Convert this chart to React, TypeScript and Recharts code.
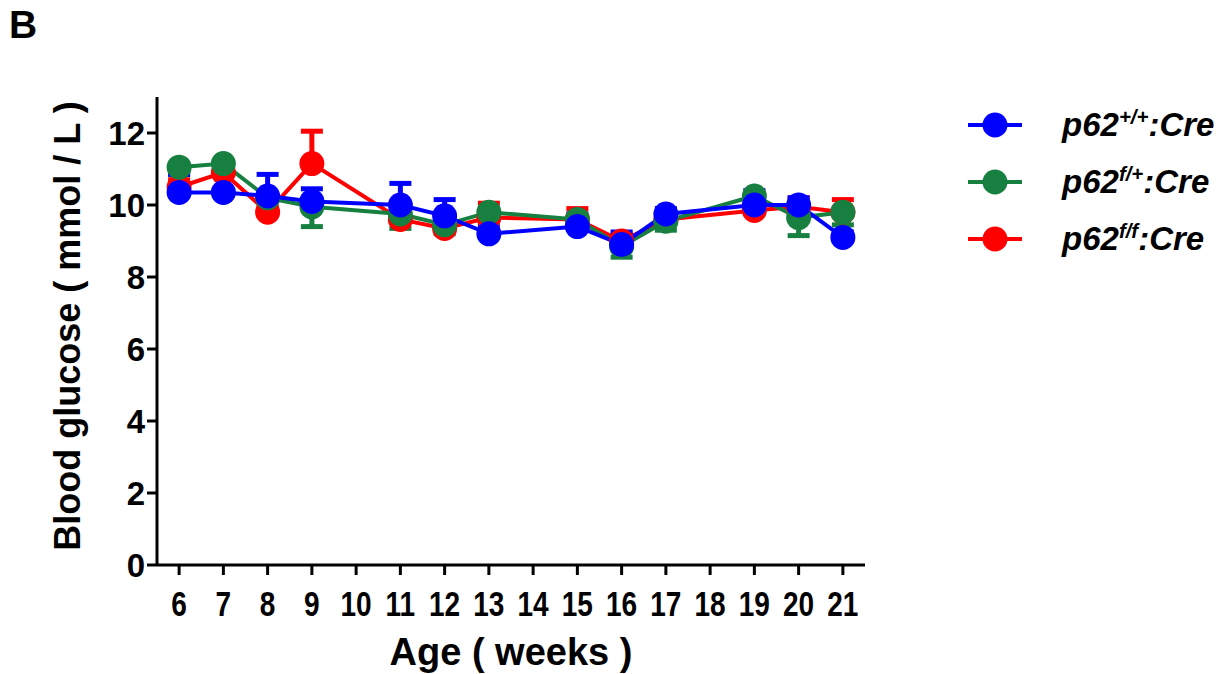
import { LineChart, Line, XAxis, YAxis, ErrorBar, Label } from 'recharts'

const FONT = "'Liberation Sans', Arial, Helvetica, sans-serif"

// age in weeks (10, 14 and 18 have ticks but no measurements)
const weeks = [6, 7, 8, 9, 11, 12, 13, 15, 16, 17, 19, 20, 21]
const xTicks = [6, 7, 8, 9, 10, 11, 12, 13, 14, 15, 16, 17, 18, 19, 20, 21]
const yTicks = [0, 2, 4, 6, 8, 10, 12]

// p62+/+:Cre  (error drawn upward)
const wtMean = [10.35, 10.35, 10.25, 10.1, 10.0, 9.7, 9.2, 9.4, 8.9, 9.75, 10.0, 10.0, 9.1]
const wtSem = [0.5, 0.5, 0.6, 0.35, 0.6, 0.45, 0.2, 0.35, 0.35, 0.15, 0.4, 0.2, 0.15]
// p62f/+:Cre  (error drawn downward)
const hetMean = [11.05, 11.15, 10.2, 9.95, 9.75, 9.45, 9.8, 9.6, 8.85, 9.55, 10.25, 9.65, 9.8]
const hetSem = [0.2, 0.2, 0.3, 0.55, 0.4, 0.25, 0.25, 0.25, 0.3, 0.25, 0.25, 0.5, 0.35]
// p62f/f:Cre  (error drawn upward)
const koMean = [10.5, 10.9, 9.8, 11.15, 9.6, 9.35, 9.65, 9.6, 9.0, 9.6, 9.85, 9.95, 9.8]
const koSem = [0.2, 0.25, 0.2, 0.9, 0.2, 0.25, 0.4, 0.3, 0.2, 0.15, 0.2, 0.25, 0.35]

const BLUE = '#0000ff'
const GREEN = '#178040'
const RED = '#ff0000'

const data = weeks.map((w, i) => ({
  week: w,
  wt: wtMean[i],
  wtErr: [0, wtSem[i]],
  het: hetMean[i],
  hetErr: [hetSem[i], 0],
  ko: koMean[i],
  koErr: [0, koSem[i]],
}))

const legendItems = [
  { color: BLUE, sup: '+/+' },
  { color: GREEN, sup: 'f/+' },
  { color: RED, sup: 'f/f' },
]

const XTick = ({ x, y, payload }: any) => (
  <text
    transform={`translate(${x},${y + 39}) scale(0.8,1)`}
    textAnchor="middle"
    fontSize={35}
    fontWeight="bold"
    fontFamily={FONT}
    fill="#000"
  >
    {payload.value}
  </text>
)

export default function App() {
  const axisStyle = { stroke: '#000', strokeWidth: 3 }
  const seriesDot = (c: string) => ({ r: 12.5, fill: c, stroke: c, strokeWidth: 0 })

  return (
    <div style={{ position: 'absolute', left: 0, top: 0, width: 1230, height: 674, background: '#fff', fontFamily: FONT }}>
      <div style={{ position: 'absolute', left: 9, top: 3, fontSize: 39, fontWeight: 'bold' }}>B</div>

      <LineChart width={1230} height={674} data={data} margin={{ top: 97, right: 365, bottom: 0, left: 0 }}>
        <XAxis
          dataKey="week"
          type="number"
          domain={[5.5, 21.5]}
          ticks={xTicks}
          interval={0}
          height={109}
          axisLine={axisStyle}
          tickLine={axisStyle}
          tickSize={10}
          tick={<XTick />}
        >
          <Label
            content={() => (
              <text x={511} y={665} textAnchor="middle" fontSize={38} fontWeight="bold" fontFamily={FONT} fill="#000">
                Age ( weeks )
              </text>
            )}
          />
        </XAxis>
        <YAxis
          type="number"
          domain={[0, 13]}
          ticks={yTicks}
          interval={0}
          width={157}
          axisLine={axisStyle}
          tickLine={axisStyle}
          tickSize={10}
          tickMargin={2}
          tick={{ fontSize: 33, fontWeight: 'bold', fill: '#000', fontFamily: FONT }}
        >
          <Label
            content={() => (
              <text
                x={80}
                y={326}
                transform="rotate(-90, 80, 326)"
                textAnchor="middle"
                fontSize={36}
                fontWeight="bold"
                fontFamily={FONT}
                fill="#000"
              >
                Blood glucose ( mmol / L )
              </text>
            )}
          />
        </YAxis>

        <Line dataKey="ko" stroke={RED} strokeWidth={4} dot={seriesDot(RED)} activeDot={false} isAnimationActive={false}>
          <ErrorBar dataKey="koErr" direction="y" width={11} stroke={RED} strokeWidth={5} />
        </Line>
        <Line dataKey="het" stroke={GREEN} strokeWidth={4} dot={seriesDot(GREEN)} activeDot={false} isAnimationActive={false}>
          <ErrorBar dataKey="hetErr" direction="y" width={11} stroke={GREEN} strokeWidth={5} />
        </Line>
        <Line dataKey="wt" stroke={BLUE} strokeWidth={4} dot={seriesDot(BLUE)} activeDot={false} isAnimationActive={false}>
          <ErrorBar dataKey="wtErr" direction="y" width={11} stroke={BLUE} strokeWidth={5} />
        </Line>
      </LineChart>

      <div style={{ position: 'absolute', left: 966, top: 96 }}>
        {legendItems.map((it) => (
          <div key={it.sup} style={{ display: 'flex', alignItems: 'center', height: 57 }}>
            <svg width={60} height={30}>
              <line x1={2} y1={15} x2={56} y2={15} stroke={it.color} strokeWidth={4} />
              <circle cx={29} cy={15} r={12.5} fill={it.color} />
            </svg>
            <span style={{ marginLeft: 36, fontSize: 33, fontWeight: 'bold', fontStyle: 'italic', color: '#000' }}>
              p62<span style={{ fontSize: '0.62em', verticalAlign: 'super' }}>{it.sup}</span>:Cre
            </span>
          </div>
        ))}
      </div>
    </div>
  )
}
